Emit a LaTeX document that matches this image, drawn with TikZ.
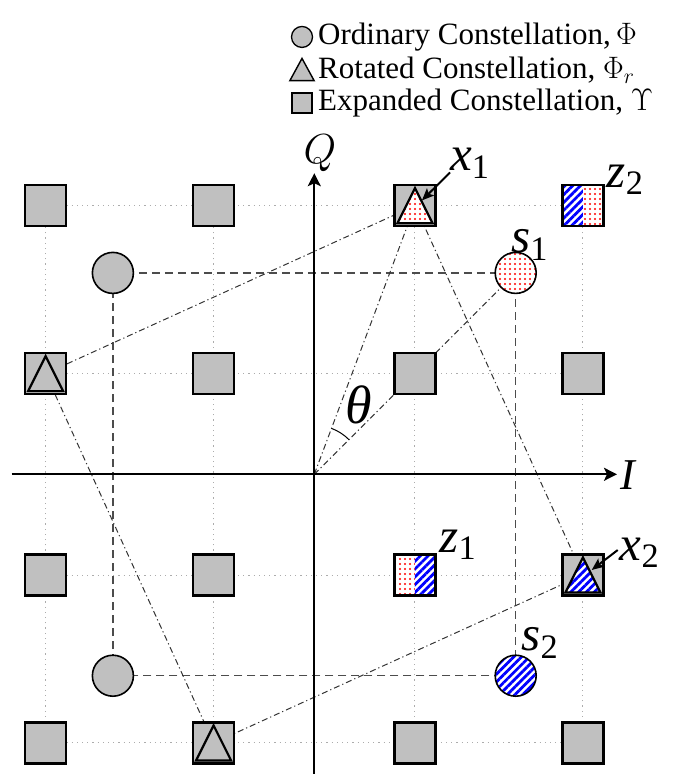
\RequirePackage{fix-cm}
\documentclass[tikz,border=0pt]{standalone}
\usepackage[no-math]{fontspec}
\setmainfont{Liberation Serif}
\usetikzlibrary{arrows.meta,patterns.meta,calc}
\definecolor{symgray}{RGB}{192,192,192}
\definecolor{dotred}{RGB}{255,0,0}
\definecolor{hatchblue}{RGB}{0,0,255}
\newcommand\lblfont{\fontsize{49bp}{52bp}\selectfont}
\newcommand\legfont{\fontsize{31bp}{34bp}\selectfont}
% triangle with apex up, centred on a named point, half size #3
\newcommand\tripath[3]{\path[#1] ($(#2)+(-#3,-#3)$) -- ($(#2)+(#3,-#3)$) -- ($(#2)+(0,#3)$) -- cycle;}
\begin{document}
\begin{tikzpicture}[x=100.7bp,y=100.7bp,
  gridline/.style={gray!65, line width=1bp, dash pattern=on 1.2bp off 4bp},
  circpath/.style={black!70, line width=1.3bp, dash pattern=on 8bp off 5bp},
  rotpath/.style={black!80, line width=1bp, dash pattern=on 6bp off 3bp on 1.2bp off 3bp},
  expsq/.style={rectangle, draw, fill=symgray, line width=2.6bp, minimum size=41bp, inner sep=0pt},
  halfsq/.style={rectangle, draw, line width=2.6bp, minimum size=41bp, inner sep=0pt},
  ordc/.style={circle, draw, fill=symgray, line width=1.6bp, minimum size=41bp, inner sep=0pt},
  reddots/.style={pattern={Dots[distance=5bp,radius=1.1bp]}, pattern color=dotred},
  bluehatch/.style={pattern={Lines[angle=45,distance=5.5bp,line width=2.8bp]}, pattern color=hatchblue},
  axisline/.style={line width=2bp, -{Stealth[length=13bp,width=13bp,inset=3bp]}},
  ptr/.style={line width=2bp, -{Stealth[length=12bp,width=10bp,inset=2.5bp]}},
  lbl/.style={inner sep=0pt, font=\lblfont},
  legtext/.style={anchor=west, inner sep=0pt, font=\legfont}
]
\path[use as bounding box] (-3.121,-2.976) rectangle (3.681,4.710);
\def\bb{2.668}

% lattice points of the expanded constellation
\coordinate (O) at (0,0);
\foreach \i/\xx in {1/-\bb,2/-1,3/1,4/\bb}
  \foreach \j/\yy in {1/-\bb,2/-1,3/1,4/\bb}
    \coordinate (g\i\j) at (\xx,\yy);

% ordinary constellation points
\coordinate (pc1) at (-2,2);
\coordinate (ps1) at (2,2);
\coordinate (ps2) at (2,-2);
\coordinate (pc4) at (-2,-2);

% dotted grid
\foreach \k in {1,2,3,4} {
  \draw[gridline] (g1\k) -- (g4\k);
  \draw[gridline] (g\k1) -- (g\k4);
}

% ordinary constellation outline
\draw[circpath] (pc1) -- (ps1) -- (ps2) -- (pc4) -- cycle;

% rotated constellation outline and rotation lines
\draw[rotpath] (g34) -- (g42) -- (g21) -- (g13) -- cycle;
\draw[rotpath] (O) -- (g34);
\draw[rotpath] (O) -- (ps1);

% expanded constellation squares
\foreach \p in {11,12,13,14,21,22,23,24,31,33,34,41,42,43}
  \node[expsq] (e\p) at (g\p) {};

% superimposed points z1 and z2
\fill[white] ($(g44)+(-0.2036,-0.2036)$) rectangle ($(g44)+(0.2036,0.2036)$);
\path[bluehatch] ($(g44)+(-0.2036,-0.2036)$) rectangle ($(g44)+(0,0.2036)$);
\path[reddots] ($(g44)+(0,-0.2036)$) rectangle ($(g44)+(0.2036,0.2036)$);
\node[halfsq] (z2) at (g44) {};
\fill[white] ($(g32)+(-0.2036,-0.2036)$) rectangle ($(g32)+(0.2036,0.2036)$);
\path[reddots] ($(g32)+(-0.2036,-0.2036)$) rectangle ($(g32)+(0,0.2036)$);
\path[bluehatch] ($(g32)+(0,-0.2036)$) rectangle ($(g32)+(0.2036,0.2036)$);
\node[halfsq] (z1) at (g32) {};

% rotated constellation triangles
\tripath{draw, line width=2.2bp, preaction={fill=white}, reddots}{g34}{0.174}
\tripath{draw, line width=2.2bp, preaction={fill=white}, bluehatch}{g42}{0.174}
\tripath{draw, line width=2.2bp, fill=symgray}{g21}{0.174}
\tripath{draw, line width=2.2bp, fill=symgray}{g13}{0.174}

% ordinary constellation circles
\node[ordc] (c1) at (pc1) {};
\node[ordc] (c4) at (pc4) {};
\node[ordc, preaction={fill=white}, reddots] (s1) at (ps1) {};
\node[ordc, preaction={fill=white}, bluehatch] (s2) at (ps2) {};

% axes
\coordinate (iL) at (-3.005,0);
\coordinate (iR) at (3.006,0);
\coordinate (qB) at (0,-3.05);
\coordinate (qT) at (0,2.99);
\draw[axisline] (iL) -- (iR);
\draw[axisline] (qB) -- (qT);
\node[inner sep=0pt, font=\fontsize{42bp}{46bp}\selectfont] (lQ) at (0.057,3.19) {$Q$};
\node[inner sep=0pt, font=\fontsize{44bp}{48bp}\selectfont] (lI) at (3.124,-0.007) {\textit{I}};

% rotation angle
\draw[line width=1bp] ($(O)+(45:0.487)$) arc[start angle=45, end angle=69.45, radius=0.487];
\node[inner sep=0pt, font=\fontsize{54bp}{58bp}\selectfont] (lth) at (0.443,0.688) {\textit{θ}};

% point labels
\node[lbl] (lx1) at (1.545,3.09) {\textit{x}\textsubscript{1}};
\node[lbl] (lx2) at (3.23,-0.78) {\textit{x}\textsubscript{2}};
\node[lbl] (lz1) at (1.427,-0.702) {\textit{z}\textsubscript{1}};
\node[lbl] (lz2) at (3.086,2.924) {\textit{z}\textsubscript{2}};
\node[lbl] (ls1) at (2.139,2.277) {\textit{s}\textsubscript{1}};
\node[lbl] (ls2) at (2.241,-1.673) {\textit{s}\textsubscript{2}};

\coordinate (ax1s) at (1.348,2.997);
\coordinate (ax1e) at (1.069,2.72);
\coordinate (ax2s) at (3.013,-0.752);
\coordinate (ax2e) at (2.755,-0.950);
\draw[ptr] (ax1s) -- (ax1e);
\draw[ptr] (ax2s) -- (ax2e);

% legend
\coordinate (lgc) at (-0.122,4.343);
\coordinate (lgt) at (-0.122,4.015);
\coordinate (lgs) at (-0.122,3.687);
\node[circle, draw, fill=symgray, line width=1.3bp, minimum size=21bp, inner sep=0pt] (legc) at (lgc) {};
\path[draw, fill=symgray, line width=1.4bp] ($(lgt)+(-0.12,-0.105)$) -- ($(lgt)+(0.12,-0.105)$) -- ($(lgt)+(0,0.115)$) -- cycle;
\node[rectangle, draw, fill=symgray, line width=1.4bp, minimum size=20bp, inner sep=0pt] (legs) at (lgs) {};
\node[legtext] (legt1) at (0.037,4.343) {Ordinary Constellation,\,$\Phi$};
\node[legtext] (legt2) at (0.037,4.015) {Rotated Constellation, $\Phi_r$};
\node[legtext] (legt3) at (0.037,3.687) {Expanded Constellation, $\Upsilon$};
\end{tikzpicture}
\end{document}
